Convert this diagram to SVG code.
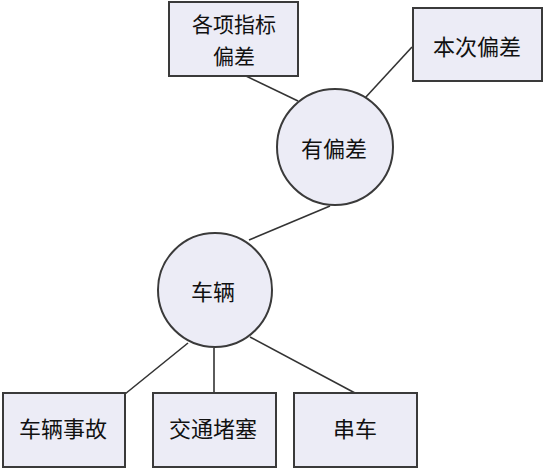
<svg xmlns="http://www.w3.org/2000/svg" width="550" height="470" viewBox="0 0 550 470">
<style>
.n{fill:#ECECF6;stroke:#3a3a3a;stroke-width:2}
.t{font-family:"Noto Sans CJK SC","Noto Sans CJK TC",sans-serif;font-size:22px;fill:#111;text-anchor:middle;dominant-baseline:central}
.c{stroke:#333;stroke-width:1.6;fill:none}
</style>
<rect width="550" height="470" fill="#fff"/>
<g id="connectors">
<line class="c" x1="246" y1="76" x2="298" y2="101"/>
<line class="c" x1="412" y1="47" x2="365" y2="98"/>
<line class="c" x1="330" y1="206" x2="249" y2="240"/>
<line class="c" x1="188" y1="343" x2="125" y2="394"/>
<line class="c" x1="214" y1="348" x2="214" y2="393"/>
<line class="c" x1="250" y1="337" x2="355" y2="393"/>
</g>
<g id="n1"><rect class="n" x="169" y="2" width="129" height="74"/><text class="t" x="234" y="23" style="font-size:21px">各项指标</text><text class="t" x="234" y="55" style="font-size:21px">偏差</text></g>
<g id="n2"><rect class="n" x="413" y="8" width="129" height="73"/><text class="t" x="477" y="45">本次偏差</text></g>
<g id="n3"><circle class="n" cx="335" cy="147" r="58"/><text class="t" x="334" y="147">有偏差</text></g>
<g id="n4"><circle class="n" cx="215" cy="290" r="57"/><text class="t" x="213" y="290">车辆</text></g>
<g id="n5"><rect class="n" x="3" y="393" width="122" height="74"/><text class="t" x="63" y="427">车辆事故</text></g>
<g id="n6"><rect class="n" x="153" y="393" width="123" height="74"/><text class="t" x="213" y="427">交通堵塞</text></g>
<g id="n7"><rect class="n" x="294" y="393" width="123" height="74"/><text class="t" x="355" y="427">串车</text></g>
</svg>
